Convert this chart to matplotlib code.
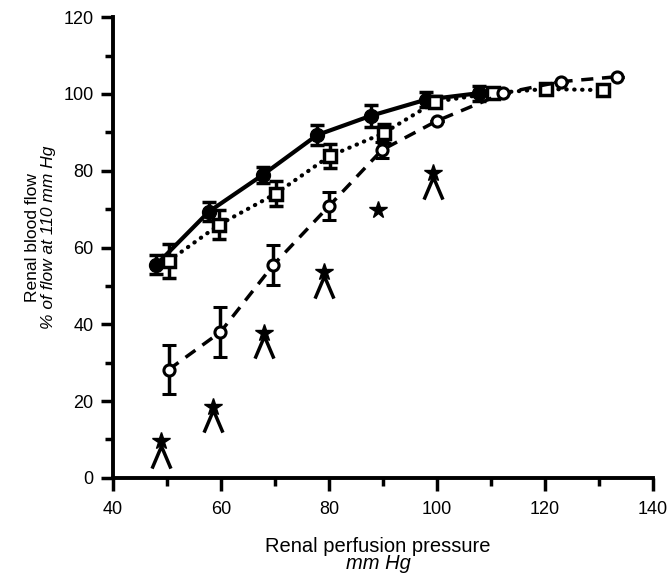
# renal blood flow vs perfusion pressure, three groups with SEM bars
import matplotlib
matplotlib.use('Agg')
import matplotlib.pyplot as plt
from matplotlib.path import Path

plt.rcParams['font.family'] = ['Liberation Sans', 'DejaVu Sans']

# filled circles, solid line
x_solid = [48, 57.7, 67.7, 77.8, 87.7, 97.9, 107.7]
y_solid = [55.5, 69.3, 78.9, 89.3, 94.3, 98.5, 100.2]
e_solid = [2.5, 2.5, 2.0, 2.7, 2.8, 2.0, 2.0]

# open squares, dotted line
x_dot = [50.3, 59.7, 70.1, 80.1, 90.1, 99.7, 110.3, 120.1, 130.7]
y_dot = [56.5, 66.0, 74.0, 83.8, 89.8, 98.0, 100.2, 101.3, 101.0]
e_dot = [4.5, 3.7, 3.3, 3.2, 2.5, 1.5, 0, 0, 0]

# open circles, dashed line
x_dash = [50.3, 59.9, 69.7, 80.0, 89.8, 100.0, 112.3, 122.9, 133.4]
y_dash = [28.2, 38.0, 55.5, 70.8, 85.4, 93.0, 100.2, 103.2, 104.5]
e_dash = [6.3, 6.4, 5.2, 3.7, 2.0, 0, 0, 0, 0]

# significance marks
star_x = [48.8, 58.6, 67.9, 79.0, 89.1, 99.2]
star_y = [9.6, 18.5, 37.8, 53.6, 69.8, 79.4]
caret_x = [48.8, 58.6, 67.9, 79.0, 99.2]
caret_y = [5.4, 14.8, 34.0, 49.8, 75.4]

fig = plt.figure(figsize=(6.69, 5.73), dpi=100)
ax = fig.add_axes([0.169, 0.166, 0.807, 0.804])

ax.errorbar(x_solid, y_solid, yerr=e_solid, color='black', lw=3, marker='o',
            ms=10, mfc='black', mec='black', elinewidth=2.5, capsize=5, capthick=2.5)
ax.errorbar(x_dot, y_dot, yerr=e_dot, color='black', lw=3, ls=(0, (0.1, 1.8)),
            dash_capstyle='round', marker='s', ms=8, mfc='white', mec='black',
            mew=2.5, elinewidth=2.5, capsize=5, capthick=2.5)
ax.errorbar(x_dash, y_dash, yerr=e_dash, color='black', lw=2.5, ls=(0, (3.5, 2.5)),
            marker='o', ms=8, mfc='white', mec='black', mew=2.2,
            elinewidth=2.5, capsize=5, capthick=2.5)

ax.plot(star_x, star_y, ls='none', marker='*', ms=13, color='black')
caret = Path([(-0.85, -1), (0, 1), (0.85, -1)], [Path.MOVETO, Path.LINETO, Path.LINETO])
ax.plot(caret_x, caret_y, ls='none', marker=caret, ms=16, mfc='none',
        mec='black', mew=2.5)

ax.set_xlim(40, 140)
ax.set_ylim(0, 120)
ax.set_xticks(range(40, 141, 20))
ax.set_xticks(range(50, 140, 20), minor=True)
ax.set_yticks(range(0, 121, 20))
ax.set_yticks(range(10, 120, 20), minor=True)
ax.tick_params(which='major', direction='out', length=9, width=2.5, labelsize=13)
ax.tick_params(which='minor', direction='out', length=6, width=2.5)
ax.tick_params(axis='x', which='major', pad=8)
ax.tick_params(axis='y', which='major', pad=5)

for s in ['top', 'right']:
    ax.spines[s].set_visible(False)
for s in ['left', 'bottom']:
    ax.spines[s].set_linewidth(2.8)

fig.text(0.048, 0.585, 'Renal blood flow', rotation=90, ha='center', va='center', fontsize=12.5)
fig.text(0.073, 0.585, '% of flow at 110 mm Hg', rotation=90, ha='center', va='center',
         fontsize=12.5, style='italic')
fig.text(0.565, 0.047, 'Renal perfusion pressure', ha='center', va='center', fontsize=14.5)
fig.text(0.565, 0.017, 'mm Hg', ha='center', va='center', fontsize=14.5, style='italic')

fig.savefig('out.png', dpi=100)
